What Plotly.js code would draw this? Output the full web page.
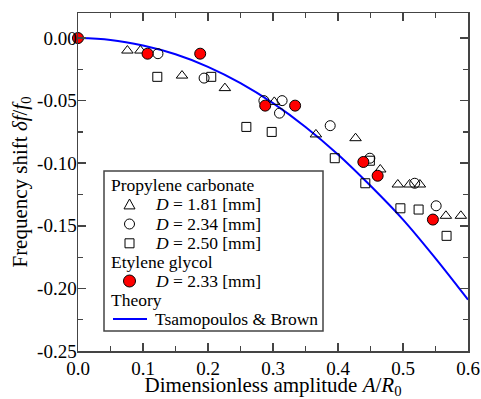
<!DOCTYPE html>
<html>
<head>
<meta charset="utf-8">
<script src="https://cdn.plot.ly/plotly-3.0.1.min.js"></script>
<style>
html,body{margin:0;padding:0;background:#fff;}
#chart{width:481px;height:399px;}
</style>
</head>
<body>
<div id="chart"></div>
<script>
// Propylene carbonate, D = 1.81 mm (triangles)
const triX = [0.076, 0.096, 0.160, 0.226, 0.302, 0.366, 0.427, 0.465, 0.492, 0.510, 0.526, 0.566, 0.589];
const triY = [-0.010, -0.010, -0.030, -0.040, -0.051, -0.077, -0.080, -0.105, -0.117, -0.117, -0.117, -0.142, -0.142];
// Propylene carbonate, D = 2.34 mm (circles)
const cirX = [0.123, 0.194, 0.286, 0.310, 0.314, 0.388, 0.449, 0.518, 0.551];
const cirY = [-0.0125, -0.032, -0.050, -0.060, -0.050, -0.070, -0.096, -0.116, -0.134];
// Propylene carbonate, D = 2.50 mm (squares)
const sqX = [0.122, 0.205, 0.259, 0.298, 0.395, 0.449, 0.442, 0.496, 0.524, 0.567];
const sqY = [-0.031, -0.031, -0.071, -0.075, -0.096, -0.098, -0.116, -0.136, -0.137, -0.158];
// Etylene glycol, D = 2.33 mm (red filled circles)
const egX = [0.000, 0.107, 0.188, 0.288, 0.334, 0.439, 0.461, 0.546];
const egY = [0.000, -0.0125, -0.0125, -0.054, -0.054, -0.099, -0.110, -0.145];
// Theory: Tsamopoulos & Brown
const thX = [0.00, 0.05, 0.10, 0.15, 0.20, 0.25, 0.30, 0.35, 0.40, 0.45, 0.50, 0.55, 0.60];
const thY = [0.000, -0.0015, -0.006, -0.013, -0.023, -0.036, -0.052, -0.071, -0.093, -0.118, -0.145, -0.176, -0.209];

const xTicks = [0.0, 0.1, 0.2, 0.3, 0.4, 0.5, 0.6];
const xTickText = ['0.0', '0.1', '0.2', '0.3', '0.4', '0.5', '0.6'];
const yTicks = [0.00, -0.05, -0.10, -0.15, -0.20, -0.25];
const yTickText = ['0.00', '-0.05', '-0.10', '-0.15', '-0.20', '-0.25'];

// legend texts
const legendGroups = ['Propylene carbonate', 'Etylene glycol', 'Theory'];
const legendItems = ['<i>D</i> = 1.81 [mm]', '<i>D</i> = 2.34 [mm]', '<i>D</i> = 2.50 [mm]', '<i>D</i> = 2.33 [mm]', 'Tsamopoulos &amp; Brown'];

const FONT = 'Liberation Serif';
const W = 481, H = 399, ML = 78, MR = 13, MT = 13, MB = 48;
const PW = W - ML - MR, PH = H - MT - MB;
const px = p => (p - ML) / PW;           // pixel x -> paper
const py = p => (H - MB - p) / PH;       // pixel y -> paper

const traces = [
  {x: thX, y: thY, type: 'scatter', mode: 'lines', line: {color: '#0000ff', width: 2, shape: 'spline'}},
  {x: triX, y: triY, type: 'scatter', mode: 'markers',
   marker: {symbol: 'triangle-up-open', size: 10, color: '#000', line: {width: 1}}},
  {x: cirX, y: cirY, type: 'scatter', mode: 'markers',
   marker: {symbol: 'circle-open', size: 10, color: '#000', line: {width: 1}}},
  {x: sqX, y: sqY, type: 'scatter', mode: 'markers',
   marker: {symbol: 'square-open', size: 9, color: '#000', line: {width: 1}}},
  {x: egX, y: egY, type: 'scatter', mode: 'markers', cliponaxis: false,
   marker: {symbol: 'circle', size: 11, color: '#ff0000', line: {color: '#000', width: 1}}}
];

const axisCommon = {
  showline: true, linecolor: '#444', linewidth: 1.5, mirror: 'ticks',
  ticks: 'inside', ticklen: 8, tickwidth: 1.5, tickcolor: '#444',
  showgrid: false, zeroline: false,
  tickfont: {family: FONT, size: 19, color: '#000'},
  minor: {ticks: 'inside', ticklen: 5, tickwidth: 1.2, tickcolor: '#444'}
};

// ---- hand-built legend (box, symbols, texts) ----
const LX0 = 104, LX1 = 323, LY0 = 171, LY1 = 331;
const rowY = [185, 204.5, 224, 243.3, 262.3, 281, 300, 319];
const symX = 129.5, textX = 153, titleX = 109;
const shapes = [
  {type: 'rect', xref: 'paper', yref: 'paper', x0: px(LX0), x1: px(LX1), y0: py(LY1), y1: py(LY0),
   line: {color: '#444', width: 1.5}, fillcolor: '#fff', layer: 'above'}
];
const tc = rowY[1], ts = 5.5;
shapes.push({type: 'path', xref: 'paper', yref: 'paper', layer: 'above',
  path: `M ${px(symX - ts)} ${py(tc + ts * 0.8)} L ${px(symX + ts)} ${py(tc + ts * 0.8)} L ${px(symX)} ${py(tc - ts)} Z`,
  line: {color: '#000', width: 1}, fillcolor: 'rgba(0,0,0,0)'});
shapes.push({type: 'circle', xref: 'paper', yref: 'paper', layer: 'above',
  x0: px(symX - 5), x1: px(symX + 5), y0: py(rowY[2] + 5), y1: py(rowY[2] - 5),
  line: {color: '#000', width: 1}, fillcolor: 'rgba(0,0,0,0)'});
shapes.push({type: 'rect', xref: 'paper', yref: 'paper', layer: 'above',
  x0: px(symX - 4.5), x1: px(symX + 4.5), y0: py(rowY[3] + 4.5), y1: py(rowY[3] - 4.5),
  line: {color: '#000', width: 1}, fillcolor: 'rgba(0,0,0,0)'});
shapes.push({type: 'circle', xref: 'paper', yref: 'paper', layer: 'above',
  x0: px(symX - 6), x1: px(symX + 6), y0: py(rowY[5] + 6), y1: py(rowY[5] - 6),
  line: {color: '#000', width: 1}, fillcolor: '#ff0000'});
shapes.push({type: 'line', xref: 'paper', yref: 'paper', layer: 'above',
  x0: px(113), x1: px(147), y0: py(rowY[7]), y1: py(rowY[7]),
  line: {color: '#0000ff', width: 2}});

const LFS = 17.5;
const ann = (text, x, y) => ({text: text, xref: 'paper', yref: 'paper', x: px(x), y: py(y),
  xanchor: 'left', yanchor: 'middle', showarrow: false, font: {family: FONT, size: LFS, color: '#000'}});
const annotations = [
  ann(legendGroups[0], titleX, rowY[0]),
  ann(legendItems[0], textX, rowY[1]),
  ann(legendItems[1], textX, rowY[2]),
  ann(legendItems[2], textX, rowY[3]),
  ann(legendGroups[1], titleX, rowY[4]),
  ann(legendItems[3], textX, rowY[5]),
  ann(legendGroups[2], titleX, rowY[6]),
  ann(legendItems[4], textX, rowY[7])
];

const layout = {
  width: W, height: H,
  margin: {l: ML, r: MR, t: MT, b: MB},
  paper_bgcolor: '#fff', plot_bgcolor: '#fff',
  font: {family: FONT, color: '#000'},
  showlegend: false,
  xaxis: Object.assign({}, axisCommon, {
    range: [0, 0.6], tickvals: xTicks, ticktext: xTickText,
    minor: Object.assign({}, axisCommon.minor, {dtick: 0.05, tick0: 0}),
    title: {text: 'Dimensionless amplitude <i>A</i>/<i>R</i><sub>0</sub>', font: {family: FONT, size: 21}, standoff: 4}
  }),
  yaxis: Object.assign({}, axisCommon, {
    range: [-0.25, 0.02], tickvals: yTicks, ticktext: yTickText,
    ticklabelstandoff: -4,
    minor: Object.assign({}, axisCommon.minor, {dtick: 0.025, tick0: 0}),
    title: {text: 'Frequency shift <i>δf</i>/<i>f</i><sub>0</sub>', font: {family: FONT, size: 21}, standoff: 4}
  }),
  shapes: shapes,
  annotations: annotations
};

Plotly.newPlot('chart', traces, layout, {displayModeBar: false, staticPlot: true});
</script>
</body>
</html>
